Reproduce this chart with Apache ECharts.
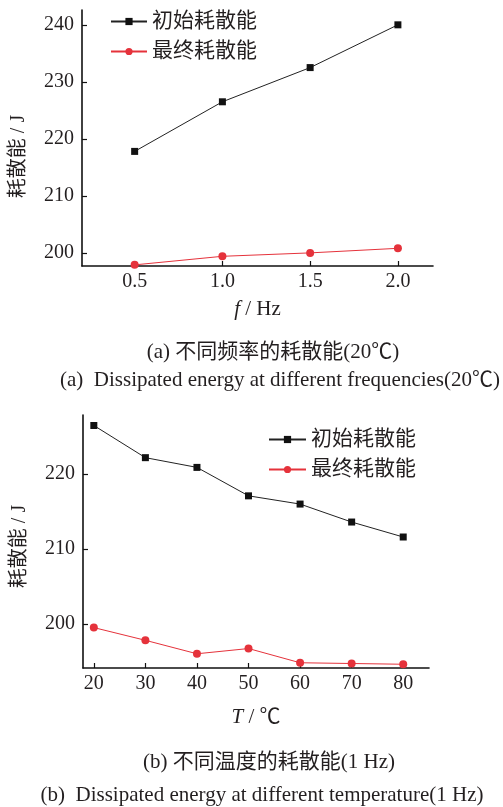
<!DOCTYPE html>
<html>
<head>
<meta charset="utf-8">
<script src="https://cdn.jsdelivr.net/npm/echarts@6/dist/echarts.min.js"></script>
<style>
html,body{margin:0;padding:0;background:#fff;}
#c{width:503px;height:807px;}
</style>
</head>
<body>
<div id="c"></div>
<script>
// ---- Data: (a) frequency ----
var freqs = [0.5, 1.0, 1.5, 2.0];
var initialA = [217.8, 226.5, 232.5, 240.0];
var finalA = [197.9, 199.4, 200.0, 200.8];
var xTicksA = [0.5, 1.0, 1.5, 2.0];
var yTicksA = [200, 210, 220, 230, 240];

// ---- Data: (b) temperature ----
var temps = [20, 30, 40, 50, 60, 70, 80];
var initialB = [226.5, 222.2, 220.9, 217.1, 216.0, 213.6, 211.6];
var finalB = [199.5, 197.8, 196.0, 196.7, 194.8, 194.7, 194.6];
var xTicksB = [20, 30, 40, 50, 60, 70, 80];
var yTicksB = [200, 210, 220];

var seriesNames = ['初始耗散能', '最终耗散能'];
var captions = [
  '(a) 不同频率的耗散能(20℃)',
  '(a)  Dissipated energy at different frequencies(20℃)',
  '(b) 不同温度的耗散能(1 Hz)',
  '(b)  Dissipated energy at different temperature(1 Hz)'
];

var FONT = '"Liberation Serif", "Times New Roman", "Noto Sans CJK SC", serif';
var TXT = '#231f20';
var RED = '#e5323b';

function pairs(xs, ys) { return xs.map(function (x, i) { return [x, ys[i]]; }); }

function xAxisCfg(idx, min, max, ticks, fmt, nameRich, gap) {
  return {
    type: 'value', gridIndex: idx, min: min, max: max,
    splitLine: { show: false },
    axisLine: { show: true, onZero: false, lineStyle: { color: '#111', width: 1.6 } },
    axisTick: { show: true, inside: true, length: 5, customValues: ticks, lineStyle: { color: '#111', width: 1.2 } },
    axisLabel: { customValues: ticks, formatter: fmt, color: TXT, fontFamily: FONT, fontSize: 20, margin: 6 },
    name: nameRich, nameLocation: 'middle', nameGap: gap,
    nameTextStyle: {
      color: TXT, fontFamily: FONT, fontSize: 21,
      rich: { i: { fontStyle: 'italic', fontFamily: FONT, fontSize: 21, color: TXT } }
    }
  };
}
function yAxisCfg(idx, min, max, ticks, pad) {
  return {
    type: 'value', gridIndex: idx, min: min, max: max,
    splitLine: { show: false },
    axisLine: { show: true, lineStyle: { color: '#111', width: 1.6 } },
    axisTick: { show: true, inside: true, length: 5, customValues: ticks, lineStyle: { color: '#111', width: 1.2 } },
    axisLabel: { customValues: ticks, color: TXT, fontFamily: FONT, fontSize: 20, margin: 8 },
    name: '耗散能 / J', nameLocation: 'middle', nameGap: 53, nameRotate: 90,
    nameTextStyle: { color: TXT, fontFamily: FONT, fontSize: 20, padding: pad }
  };
}
function lineSeries(name, data, xi, yi, black) {
  return {
    name: name, type: 'line', xAxisIndex: xi, yAxisIndex: yi, data: data,
    symbol: black ? 'rect' : 'circle', symbolSize: black ? 7 : 8,
    itemStyle: { color: black ? '#111' : RED },
    lineStyle: { color: black ? '#222' : RED, width: 1 },
    silent: true, animation: false
  };
}

var chart = echarts.init(document.getElementById('c'), null, { renderer: 'canvas' });
chart.setOption({
  backgroundColor: '#fff',
  animation: false,
  grid: [
    { left: 82, top: 10, width: 351, height: 256 },
    { left: 83, top: 415, width: 346, height: 253 }
  ],
  legend: [
    {
      orient: 'vertical', left: 105, top: 6, itemWidth: 36, itemHeight: 9, itemGap: 9,
      data: seriesNames.map(function (n) { return { name: n }; }),
      textStyle: { color: TXT, fontFamily: FONT, fontSize: 21 },
      selectedMode: false
    },
    {
      orient: 'vertical', left: 263, top: 424, itemWidth: 37, itemHeight: 9, itemGap: 9,
      data: seriesNames.map(function (n) { return { name: n }; }),
      textStyle: { color: TXT, fontFamily: FONT, fontSize: 21 },
      selectedMode: false
    }
  ],
  xAxis: [
    xAxisCfg(0, 0.2, 2.2, xTicksA, function (v) { return v.toFixed(1); }, '{i|f} / Hz', 33),
    xAxisCfg(1, 17.9, 85, xTicksB, function (v) { return String(v); }, '{i|T} / ℃', 39)
  ],
  yAxis: [
    yAxisCfg(0, 197.7, 242.6, yTicksA, [0, 37, 0, 0]),
    yAxisCfg(1, 194.1, 227.9, yTicksB, [0, 10, 0, 0])
  ],
  series: [
    lineSeries(seriesNames[0], pairs(freqs, initialA), 0, 0, true),
    lineSeries(seriesNames[1], pairs(freqs, finalA), 0, 0, false),
    lineSeries(seriesNames[0], pairs(temps, initialB), 1, 1, true),
    lineSeries(seriesNames[1], pairs(temps, finalB), 1, 1, false)
  ],
  graphic: [
    { type: 'text', x: 273, y: 352, style: { text: captions[0], x: 0, y: 0, align: 'center', verticalAlign: 'middle', fill: TXT, font: '21px ' + FONT } },
    { type: 'text', x: 280, y: 380, style: { text: captions[1], x: 0, y: 0, align: 'center', verticalAlign: 'middle', fill: TXT, font: '21px ' + FONT } },
    { type: 'text', x: 269, y: 762, style: { text: captions[2], x: 0, y: 0, align: 'center', verticalAlign: 'middle', fill: TXT, font: '21px ' + FONT } },
    { type: 'text', x: 262, y: 795, style: { text: captions[3], x: 0, y: 0, align: 'center', verticalAlign: 'middle', fill: TXT, font: '21px ' + FONT } }
  ]
});
</script>
</body>
</html>
